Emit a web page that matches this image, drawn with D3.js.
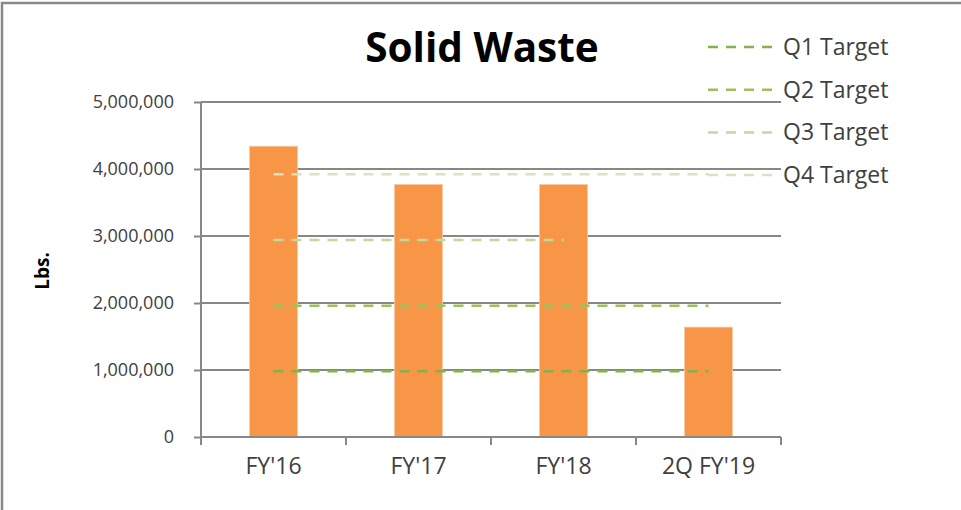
<!DOCTYPE html>
<html>
<head>
<meta charset="utf-8">
<script src="https://cdn.jsdelivr.net/npm/d3@7/dist/d3.min.js"></script>
<style>
  html, body { margin: 0; padding: 0; background: #fff; }
  svg { display: block; }
  text { font-family: "Open Sans", "Noto Sans", sans-serif; }
</style>
</head>
<body>
<svg id="chart" width="961" height="510"></svg>
<script>
// ---- data ----
const categories = ["FY'16", "FY'17", "FY'18", "2Q FY'19"];
const solidWaste = [4340000, 3770000, 3770000, 1640000];
const q1Target = [980000, 980000, 980000, 980000];
const q2Target = [1960000, 1960000, 1960000, 1960000];
const q3Target = [2940000, 2940000, 2940000, null];
const q4Target = [3920000, 3920000, 3920000, 3920000];
const yTicks = [0, 1000000, 2000000, 3000000, 4000000, 5000000];
const seriesNames = ["Q1 Target", "Q2 Target", "Q3 Target", "Q4 Target"];
const title = "Solid Waste";
const yTitle = "Lbs.";

// ---- layout ----
const svg = d3.select("#chart");
const plot = { left: 201, right: 781, top: 102, bottom: 437 };

const x = d3.scaleBand().domain(categories).range([plot.left, plot.right]).padding(0);
const y = d3.scaleLinear().domain([0, 5000000]).range([plot.bottom, plot.top]);
const barW = x.bandwidth() * 0.33;

// frame
svg.append("rect").attr("x", 2).attr("y", 3).attr("width", 1100).attr("height", 700)
  .attr("fill", "none").attr("stroke", "#898989").attr("stroke-width", 2.5);

// gridlines
svg.append("g").selectAll("line").data(yTicks.slice(1)).join("line")
  .attr("x1", plot.left).attr("x2", plot.right)
  .attr("y1", d => y(d)).attr("y2", d => y(d))
  .attr("stroke", "#878787").attr("stroke-width", 2);

// bars
svg.append("g").selectAll("rect").data(categories).join("rect")
  .attr("x", d => x(d) + (x.bandwidth() - barW) / 2)
  .attr("width", barW)
  .attr("y", (d, i) => y(solidWaste[i]))
  .attr("height", (d, i) => y(0) - y(solidWaste[i]))
  .attr("fill", "#f79646")
  .attr("stroke", "#fbc9a2").attr("stroke-width", 0.8);

// target lines
const targets = [q1Target, q2Target, q3Target, q4Target];
const colors = ["#86b04a", "#9bc15c", "#c3d89f", "#d5e4c2"];
const line = d3.line()
  .defined(d => d.v != null)
  .x(d => x(d.c) + x.bandwidth() / 2)
  .y(d => y(d.v));
targets.forEach((arr, k) => {
  svg.append("path")
    .datum(categories.map((c, i) => ({ c, v: arr[i] })))
    .attr("d", line)
    .attr("fill", "none")
    .attr("stroke", colors[k])
    .attr("stroke-width", 2.5)
    .attr("stroke-dasharray", "10,8");
});

// y axis
const yAxis = d3.axisLeft(y).tickValues(yTicks).tickFormat(d3.format(",")).tickSize(7).tickPadding(20);
const gy = svg.append("g").attr("transform", `translate(${plot.left},0)`).call(yAxis);
gy.select(".domain").attr("stroke", "#878787").attr("stroke-width", 2).attr("d", `M0,${plot.bottom}V${plot.top}`);
gy.selectAll(".tick line").attr("stroke", "#878787").attr("stroke-width", 2);
gy.selectAll(".tick text").attr("fill", "#404040").style("font-size", "18px").style("font-family", "'Open Sans', sans-serif");

// x axis
const xAxis = d3.axisBottom(x).tickSize(0).tickPadding(21);
const gx = svg.append("g").attr("transform", `translate(0,${plot.bottom})`).call(xAxis);
gx.select(".domain").attr("stroke", "#878787").attr("stroke-width", 2).attr("d", `M${plot.left},0H${plot.right}`);
gx.selectAll(".tick text").attr("fill", "#404040").style("font-size", "23px").style("font-family", "'Open Sans', sans-serif");
const bounds = categories.map(c => x(c)).concat([plot.right]);
gx.append("g").selectAll("line").data(bounds).join("line")
  .attr("x1", d => d).attr("x2", d => d).attr("y1", 0).attr("y2", 8)
  .attr("stroke", "#878787").attr("stroke-width", 2);

// title
svg.append("text").attr("x", 482).attr("y", 62).attr("text-anchor", "middle")
  .style("font-size", "40.5px").style("font-weight", "bold").attr("fill", "#000").text(title);

// y title
svg.append("text").attr("transform", "translate(49,271) rotate(-90)").attr("text-anchor", "middle")
  .style("font-size", "19px").style("font-weight", "bold").attr("fill", "#000").text(yTitle);

// legend
const lg = svg.append("g");
seriesNames.forEach((name, k) => {
  const ly = 47 + k * 42.7;
  lg.append("line").attr("x1", 708).attr("x2", 772).attr("y1", ly).attr("y2", ly)
    .attr("stroke", colors[k]).attr("stroke-width", 2.5).attr("stroke-dasharray", "10,8");
  lg.append("text").attr("x", 783).attr("y", ly + 8).attr("fill", "#404040")
    .style("font-size", "23px").text(name);
});
</script>
</body>
</html>
